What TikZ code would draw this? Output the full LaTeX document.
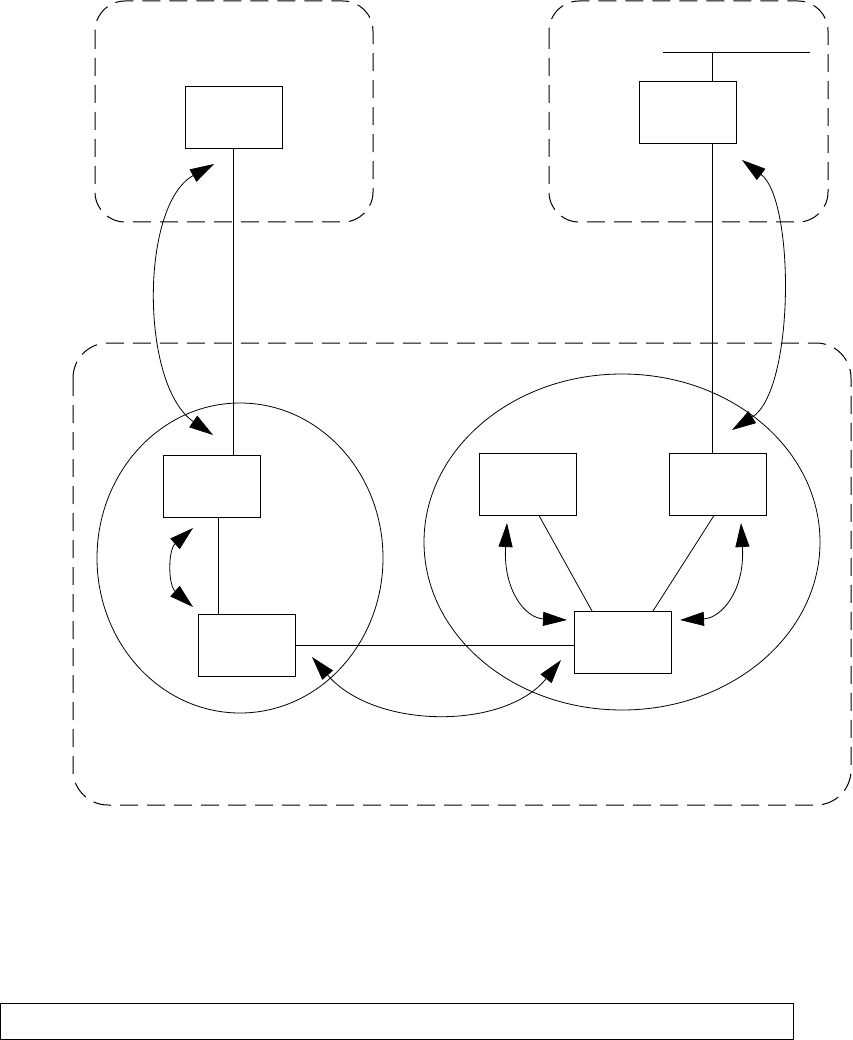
\documentclass[tikz,border=0pt]{standalone}
\usetikzlibrary{arrows.meta,shapes.geometric}
\begin{document}
\begin{tikzpicture}[x=1pt,y=-1pt,line width=0.8pt,
  box/.style={draw,minimum width=97pt,minimum height=62pt,inner sep=0pt,outer sep=0pt},
  region/.style={draw,line width=1pt,dash pattern=on 18pt off 9pt},
  arr/.style={{Triangle[length=24pt,width=14pt]}-{Triangle[length=24pt,width=14pt]}},
  ring/.style={draw,ellipse,inner sep=0pt,outer sep=0pt}]
\useasboundingbox (0,0) rectangle (852,1040);
% regions
\draw[region,rounded corners=30pt] (95,1) rectangle (373,222);
\draw[region,rounded corners=30pt] (549,1) rectangle (828,222);
\draw[region,rounded corners=35pt] (73,343) rectangle (851,805);
% ellipses
\node[ring,minimum width=286pt,minimum height=310pt] (L) at (240,558) {};
\node[ring,minimum width=396pt,minimum height=336pt] (R) at (622,542) {};
% boxes
\node[box] (A) at (233.5,117) {};
\node[box] (B) at (688,112) {};
\node[box] (C) at (212,486.5) {};
\node[box] (D) at (247,645) {};
\node[box] (E) at (528,484.5) {};
\node[box] (F) at (718,484.5) {};
\node[box] (G) at (623,642) {};
\node[draw,minimum width=793pt,minimum height=36pt,inner sep=0pt,outer sep=0pt] (N) at (396.5,1021) {};
% bus
\coordinate (busL) at (663,52);
\coordinate (busR) at (810,52);
\coordinate (bus) at (712,52);
\draw (busL) -- (busR);
\draw (bus) -- (bus |- B.north);
\draw (bus |- B.south) -- (bus |- F.north);
% links
\draw (A.south) -- (A.south |- C.north);
\draw ([xshift=6pt]C.south) -- ([xshift=6pt]C.south |- D.north);
\draw (D.east) -- (D.east -| G.west);
\draw ([xshift=11pt]E.south) -- ([xshift=-31pt]G.north);
\draw ([xshift=-4pt]F.south) -- ([xshift=30pt]G.north);
% arrows
\coordinate (a1) at (214,164); \coordinate (a2) at (213,435);
\draw[arr] (a1) .. controls (140,205) and (140,385) .. (a2);
\coordinate (b1) at (742,160); \coordinate (b2) at (732,430);
\draw[arr] (b1) .. controls (795,200) and (795,390) .. (b2);
\coordinate (c1) at (193,528); \coordinate (c2) at (193,607);
\draw[arr] (c1) .. controls (168,550) and (168,585) .. (c2);
\coordinate (e1) at (507,523); \coordinate (e2) at (567,620);
\draw[arr] (e1) .. controls (503,590) and (525,618) .. (e2);
\coordinate (f1) at (741,523); \coordinate (f2) at (680,620);
\draw[arr] (f1) .. controls (745,590) and (722,618) .. (f2);
\coordinate (d1) at (312,657); \coordinate (d2) at (561,660);
\draw[arr] (d1) .. controls (375,730) and (505,730) .. (d2);
\end{tikzpicture}
\end{document}
